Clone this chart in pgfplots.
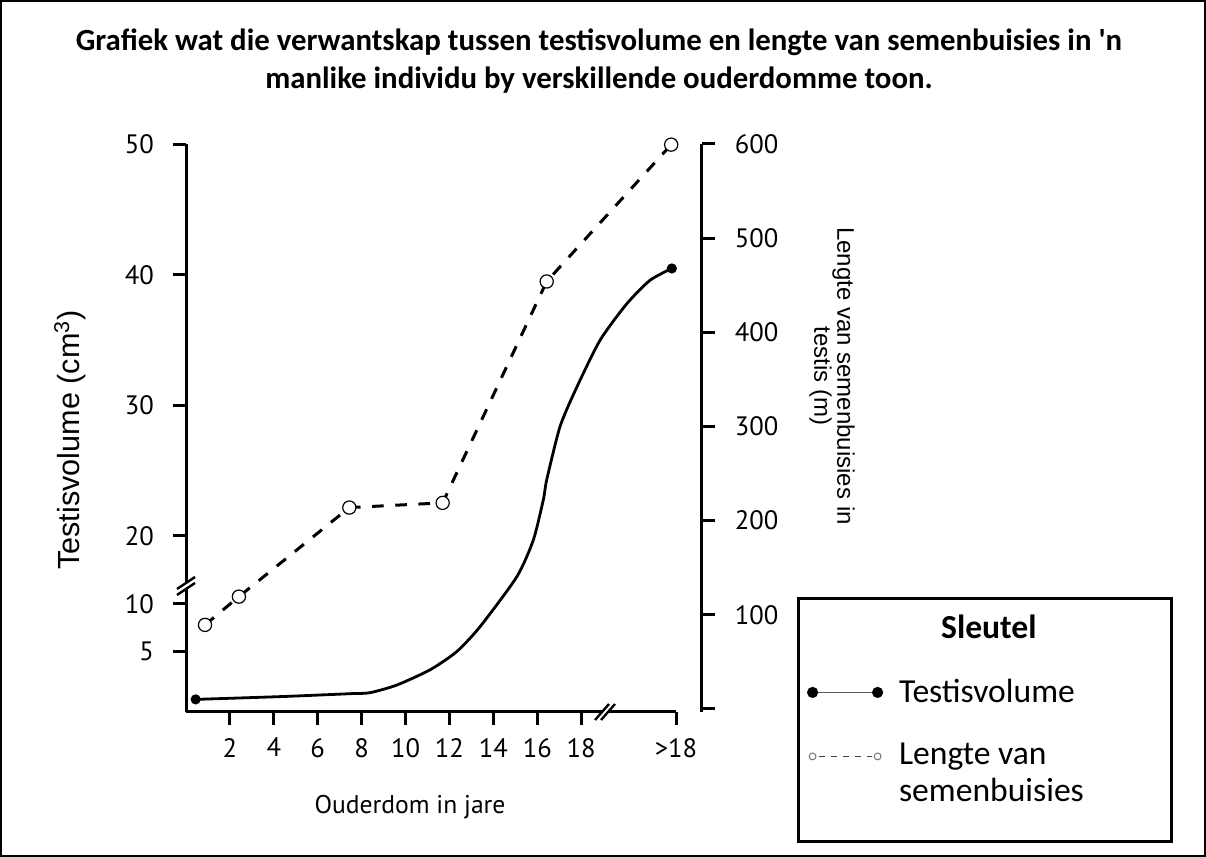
\documentclass[border=0pt]{standalone}
\usepackage{fontspec}
\setmainfont{Carlito}
\newfontfamily\tickfont{PT Sans}
\newfontfamily\labfont{Liberation Sans}
\usepackage{pgfplots}
\pgfplotsset{compat=1.18}
\begin{document}
\begin{tikzpicture}
\useasboundingbox (0,0) rectangle (603pt,428.5pt);
\begin{scope}[x=0.5pt,y=-0.5pt,yshift=428.5pt]
\draw[line width=1.2pt] (1.2,1.2) rectangle (1204.8,855.8);
\node[align=center,font=\fontsize{15.4}{18.8}\selectfont\bfseries] at (599,61)
 {Grafiek wat die verwantskap tussen testisvolume en lengte van semenbuisies in \textquotesingle n\\manlike individu by verskillende ouderdomme toon.};
\end{scope}

% left axis + x axis (testisvolume)
\begin{axis}[at={(93pt,72.5pt)}, anchor=south west, scale only axis,
  width=245pt, height=284pt,
  xmin=0, xmax=22.32, ymin=0, ymax=568, clip=false,
  axis x line*=bottom, axis y line*=left,
  axis line style={-, line width=1.5pt, black},
  tick align=outside, major tick length=6.5pt,
  tick style={line width=1.5pt, black},
  xtick={2,4,6,8,10,12,14,16,18,22.32},
  xticklabels={2,4,6,8,10,12,14,16,18,>18},
  ytick={60.3,108.1,176,306.5,437,567.5},
  yticklabels={5,10,20,30,40,50},
  ticklabel style={font=\tickfont\fontsize{13.3}{15}\selectfont},
  xticklabel style={yshift=-3pt},
  yticklabel style={xshift=-6pt},
]
\addplot[line width=1.4pt, black, smooth, tension=0.4,
  mark=*, mark indices={1,18}, mark size=1.8pt,
  y filter/.expression={y<=10 ? 12.6+9.55*y : (y<=20 ? 108.1+6.79*(y-10) : 176+13.05*(y-20))}]
  coordinates {
  (0.44,0) (4.4,0.3) (7.5,0.6) (8.38,0.7) (9.6,1.5) (11.12,3.1) (12.33,5.0) (13.39,7.6)
  (15.07,14.0) (15.82,19.4) (16.28,22.8) (16.43,24.3) (17.04,28.4)
  (17.8,31.4) (18.86,35.0) (20.08,37.8) (21.14,39.6) (22.13,40.5)};
\end{axis}

% right axis (lengte)
\begin{axis}[at={(93pt,72.5pt)}, anchor=south west, scale only axis,
  width=257.85pt, height=284pt,
  xmin=0, xmax=23.49, ymin=-3.2, ymax=600, clip=false,
  axis x line=none, axis y line*=right,
  axis line style={-, line width=1.5pt, black},
  tick align=outside, major tick length=6.5pt,
  tick style={line width=1.5pt, black},
  ytick={0,100,200,300,400,500,600},
  yticklabels={,100,200,300,400,500,600},
  ticklabel style={font=\tickfont\fontsize{13.3}{15}\selectfont},
  yticklabel style={xshift=6.5pt},
  legend style={at={(1.1848,0.2026)}, anchor=north west, draw=black,
    line width=1.5pt, inner xsep=4.3pt, inner ysep=0pt,
    column sep=8pt, row sep=0pt,
    cells={anchor=base west},
    nodes={inner sep=0pt, font=\fontsize{16.8}{19}\selectfont}},
]
\addplot[line width=1.5pt, black, dash pattern=on 5.8pt off 5.8pt,
  mark=*, mark size=3.3pt, mark options={solid, fill=white, line width=0.6pt},
  forget plot]
  coordinates {(0.866,89.3) (2.41,119.3) (7.44,213.9) (11.69,218.9) (16.43,454) (22.1,599.3)};
\addlegendimage{empty legend}
\addlegendentry{\rule{0pt}{20pt}\hspace*{21pt}\textbf{Sleutel}}
\addlegendimage{legend image code/.code={
  \draw[black!65, line width=0.8pt] (2pt,5pt) -- (34.5pt,5pt);
  \fill[black] (2pt,5pt) circle (2pt);
  \fill[black] (34.5pt,5pt) circle (2pt);}}
\addlegendentry{\rule{0pt}{30.5pt}\makebox[132pt][l]{Testisvolume}}
\addlegendimage{legend image code/.code={
  \draw[black!75, line width=0.8pt, dash pattern=on 3pt off 3pt] (5pt,4pt) -- (31.5pt,4pt);
  \draw[black!55, line width=0.5pt, fill=white] (2pt,4pt) circle (1.7pt);
  \draw[black!55, line width=0.5pt, fill=white] (34.5pt,4pt) circle (1.7pt);}}
\addlegendentry{\rule{0pt}{29.5pt}Lengte van}
\addlegendimage{empty legend}
\addlegendentry{\rule{0pt}{17pt}semenbuisies}
\addlegendimage{empty legend}
\addlegendentry{\rule{0pt}{17pt}}
\end{axis}

\begin{scope}[x=0.5pt,y=-0.5pt,yshift=428.5pt]
% axis breaks
\fill[white] (177,589) -- (195,577) -- (195,583) -- (177,595) -- cycle;
\draw[line width=1.2pt] (177,589) -- (195,577);
\draw[line width=1.2pt] (177,595) -- (195,583);
\fill[white] (595,720) -- (609,704) -- (615,704) -- (601,720) -- cycle;
\draw[line width=1.2pt] (595,720) -- (609,704);
\draw[line width=1.2pt] (601,720) -- (615,704);
% axis titles
\node[rotate=90, font=\labfont\fontsize{15.3}{17}\selectfont] at (70,440) {Testisvolume (cm\textsuperscript{3})};
\node[rotate=-90, align=center, font=\labfont\fontsize{12}{11.5}\selectfont] at (832,376) {Lengte van semenbuisies in\\testis (m)};
\node[font=\tickfont\fontsize{12.8}{15}\selectfont] at (410,807) {Ouderdom in jare};
\end{scope}
\end{tikzpicture}
\end{document}
